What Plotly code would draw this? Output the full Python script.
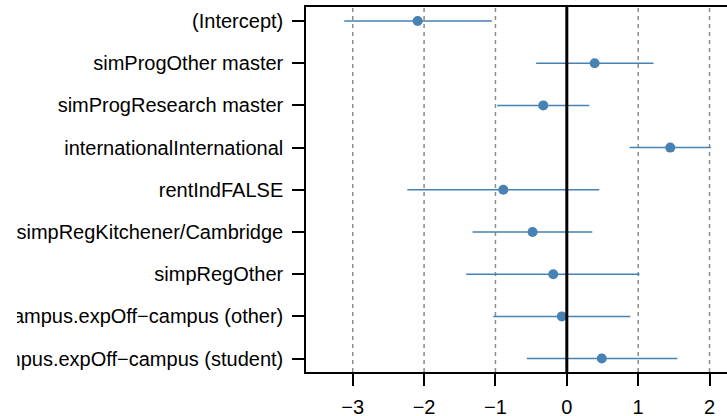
import plotly.graph_objects as go

terms = [
    "(Intercept)",
    "simProgOther master",
    "simProgResearch master",
    "internationalInternational",
    "rentIndFALSE",
    "simpRegKitchener/Cambridge",
    "simpRegOther",
    "campus.expOff\u2212campus (other)",
    "campus.expOff\u2212campus (student)",
]
estimate = [-2.09, 0.39, -0.33, 1.45, -0.89, -0.48, -0.19, -0.07, 0.49]
ci_low = [-3.12, -0.43, -0.975, 0.88, -2.235, -1.32, -1.41, -1.03, -0.56]
ci_high = [-1.05, 1.215, 0.315, 2.02, 0.455, 0.357, 1.02, 0.89, 1.55]
x_ticks = [-3, -2, -1, 0, 1, 2]
x_tick_labels = ["\u22123", "\u22122", "\u22121", "0", "1", "2"]

rows = list(range(1, len(terms) + 1))
err_plus = [h - e for h, e in zip(ci_high, estimate)]
err_minus = [e - l for e, l in zip(estimate, ci_low)]

col = "#4682B4"
fig = go.Figure()

shapes = []
for t in x_ticks:
    if t == 0:
        continue
    shapes.append(dict(type="line", xref="x", yref="paper", x0=t, x1=t, y0=0, y1=1,
                       line=dict(color="#8c8c8c", width=1.5, dash="4px,4px"), layer="below"))
shapes.append(dict(type="line", xref="x", yref="paper", x0=0, x1=0, y0=0, y1=1,
                   line=dict(color="black", width=3), layer="above"))
# white mask: the original device clipped the long labels at its left edge
shapes.append(dict(type="rect", xref="paper", yref="paper", x0=-306 / 421, x1=-289 / 421,
                   y0=-0.2, y1=1.1, line=dict(width=0), fillcolor="white", layer="above"))

fig.add_trace(go.Scatter(
    x=estimate, y=rows, mode="markers",
    marker=dict(color=col, size=10, line=dict(width=0)),
    error_x=dict(type="data", array=err_plus, arrayminus=err_minus, symmetric=False,
                 color=col, thickness=1.5, width=0),
    showlegend=False, hoverinfo="skip",
))

font = dict(family="Liberation Sans, Arial, sans-serif", size=20, color="black")

fig.update_layout(
    width=727, height=416,
    margin=dict(l=306, r=0, t=7, b=44, autoexpand=False),
    paper_bgcolor="white", plot_bgcolor="white",
    shapes=shapes,
    font=font,
    xaxis=dict(range=[-3.655, 2.245], tickvals=x_ticks, ticktext=x_tick_labels,
               showgrid=False, zeroline=False, ticks="outside", ticklen=12, tickwidth=1.5,
               tickcolor="black", showline=True, linecolor="black", linewidth=1.5,
               mirror=True, tickfont=font, ticklabelstandoff=4, automargin=False),
    yaxis=dict(range=[9.318, 0.668], tickvals=rows, ticktext=terms,
               showgrid=False, zeroline=False, ticks="outside", ticklen=12, tickwidth=1.5,
               tickcolor="black", showline=True, linecolor="black", linewidth=1.5,
               mirror=True, tickfont=font, ticklabelstandoff=5, automargin=False),
)

fig.write_html("out.html")
